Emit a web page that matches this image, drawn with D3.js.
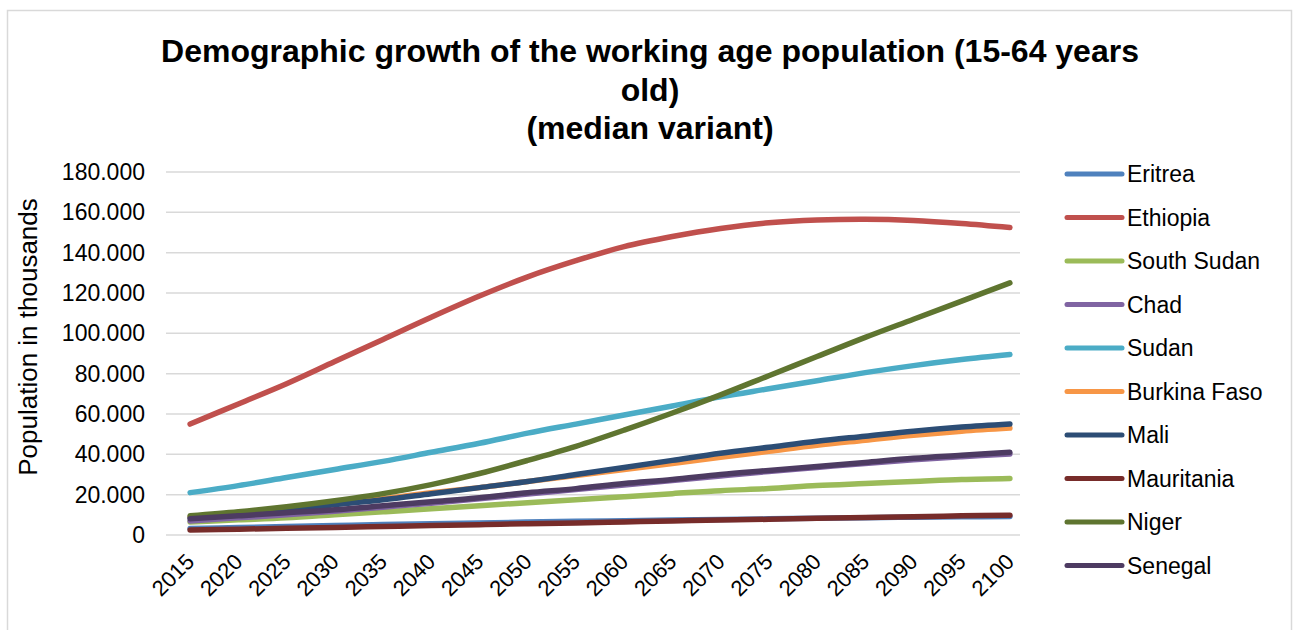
<!DOCTYPE html>
<html>
<head>
<meta charset="utf-8">
<script src="https://cdn.jsdelivr.net/npm/d3@7"></script>
<style>
  body { margin: 0; background: #fff; }
  svg { font-family: "Liberation Sans", Arial, sans-serif; }
</style>
</head>
<body>
<svg id="chart"></svg>
<script>
const width = 1296;
const height = 630;

const years = [2015, 2020, 2025, 2030, 2035, 2040, 2045, 2050, 2055, 2060, 2065, 2070, 2075, 2080, 2085, 2090, 2095, 2100];
const yTicks = [0, 20000, 40000, 60000, 80000, 100000, 120000, 140000, 160000, 180000];

// values in thousands
const eritrea = [3200, 3700, 4200, 4700, 5200, 5600, 6000, 6400, 6800, 7100, 7400, 7700, 8000, 8300, 8600, 8800, 9000, 9200];
const ethiopia = [55000, 65000, 75000, 86000, 97000, 108000, 118500, 128000, 136000, 143000, 148000, 152000, 154800, 156200, 156600, 156000, 154500, 152500];
const southSudan = [6500, 7500, 8500, 10000, 11500, 13000, 14500, 16000, 17500, 19000, 20500, 22000, 23000, 24500, 25500, 26500, 27500, 28000];
const chad = [7000, 8500, 10000, 11800, 13800, 15800, 18000, 20300, 22500, 24800, 27000, 29300, 31500, 33500, 35500, 37300, 38800, 40200];
const sudan = [21000, 24500, 28500, 32500, 36500, 41000, 45500, 50500, 55000, 59500, 64000, 68500, 72500, 76500, 80500, 84000, 87000, 89500];
const burkinaFaso = [9000, 11000, 13000, 15500, 18000, 21000, 23500, 26500, 29500, 32500, 35500, 38500, 41500, 44500, 47000, 49500, 51500, 53000];
const mali = [8500, 10500, 12500, 15000, 17500, 20500, 23500, 26500, 30000, 33500, 37000, 40500, 43500, 46500, 49000, 51500, 53500, 55000];
const mauritania = [2500, 2900, 3300, 3700, 4200, 4700, 5100, 5600, 6000, 6500, 7000, 7400, 7800, 8300, 8700, 9100, 9500, 9800];
const niger = [9500, 11500, 14000, 17000, 20500, 25000, 30500, 37000, 44000, 52000, 60500, 69500, 79000, 88500, 98000, 107000, 116000, 125000];
const senegal = [8000, 9500, 11000, 12500, 14500, 16500, 18500, 21000, 23000, 25500, 27500, 30000, 32000, 34000, 36000, 38000, 39500, 41000];

const series = [
  { name: "Eritrea", color: "#4F81BD", values: eritrea },
  { name: "Ethiopia", color: "#C0504D", values: ethiopia },
  { name: "South Sudan", color: "#9BBB59", values: southSudan },
  { name: "Chad", color: "#8064A2", values: chad },
  { name: "Sudan", color: "#4BACC6", values: sudan },
  { name: "Burkina Faso", color: "#F79646", values: burkinaFaso },
  { name: "Mali", color: "#2C4D75", values: mali },
  { name: "Mauritania", color: "#772C2A", values: mauritania },
  { name: "Niger", color: "#5F7530", values: niger },
  { name: "Senegal", color: "#4D3B62", values: senegal }
];

const plot = { left: 166, right: 1034, top: 172, bottom: 535 };

const svg = d3.select("#chart")
    .attr("width", width)
    .attr("height", height);

// outer chart border
svg.append("rect")
    .attr("x", 7.5).attr("y", 10.5)
    .attr("width", 1284).attr("height", 640)
    .attr("fill", "#fff")
    .attr("stroke", "#d9d9d9")
    .attr("stroke-width", 1.5);

// title
const title = svg.append("text")
    .attr("text-anchor", "middle")
    .attr("font-weight", "bold")
    .attr("font-size", 32)
    .attr("fill", "#000");
["Demographic growth of the working age population (15-64 years", "old)", "(median variant)"]
  .forEach((t, i) => title.append("tspan").attr("x", 650).attr("y", 62 + i * 38.5).text(t));

const x = d3.scalePoint()
    .domain(years)
    .range([plot.left, plot.right])
    .padding(0.5);

const y = d3.scaleLinear()
    .domain([0, 180000])
    .range([plot.bottom, plot.top]);

// gridlines
svg.append("g")
    .selectAll("line")
    .data(yTicks)
    .join("line")
    .attr("x1", plot.left)
    .attr("x2", plot.right - 14)
    .attr("y1", d => y(d))
    .attr("y2", d => y(d))
    .attr("stroke", "#d9d9d9")
    .attr("stroke-width", 1.5);

// y axis labels
const fmt = d => d === 0 ? "0" : d3.format(",")(d).replace(/,/g, ".");
const yAxis = svg.append("g")
    .attr("transform", `translate(${plot.left - 21},0)`)
    .call(d3.axisLeft(y).tickValues(yTicks).tickFormat(fmt).tickSize(0).tickPadding(0));
yAxis.select(".domain").remove();
yAxis.selectAll("text")
    .attr("font-size", 23)
    .attr("font-family", "Liberation Sans, Arial, sans-serif")
    .attr("fill", "#000");

// x axis labels, rotated
const xAxis = svg.append("g")
    .attr("transform", `translate(0,${plot.bottom})`)
    .call(d3.axisBottom(x).tickSize(0).tickPadding(0));
xAxis.select(".domain").remove();
xAxis.selectAll("text")
    .attr("font-size", 22)
    .attr("font-family", "Liberation Sans, Arial, sans-serif")
    .attr("fill", "#000")
    .attr("text-anchor", "end")
    .attr("dy", null)
    .attr("transform", "translate(5,28) rotate(-45)");

// y axis title
svg.append("text")
    .attr("transform", "translate(37,337) rotate(-90)")
    .attr("text-anchor", "middle")
    .attr("font-size", 26)
    .attr("fill", "#000")
    .text("Population in thousands");

// lines
const line = d3.line()
    .x((d, i) => x(years[i]))
    .y(d => y(d))
    .curve(d3.curveCatmullRom.alpha(0.5));

svg.append("g")
    .selectAll("path")
    .data(series)
    .join("path")
    .attr("d", d => line(d.values))
    .attr("fill", "none")
    .attr("stroke", d => d.color)
    .attr("stroke-width", 5.5)
    .attr("stroke-linecap", "round")
    .attr("stroke-linejoin", "round");

// legend
const legend = svg.append("g")
    .selectAll("g")
    .data(series)
    .join("g")
    .attr("transform", (d, i) => `translate(1067,${174 + i * 43.5})`);

legend.append("line")
    .attr("x1", 0).attr("x2", 55)
    .attr("stroke", d => d.color)
    .attr("stroke-width", 5)
    .attr("stroke-linecap", "round");

legend.append("text")
    .attr("x", 60)
    .attr("dy", "0.35em")
    .attr("font-size", 23)
    .attr("fill", "#000")
    .text(d => d.name);
</script>
</body>
</html>
